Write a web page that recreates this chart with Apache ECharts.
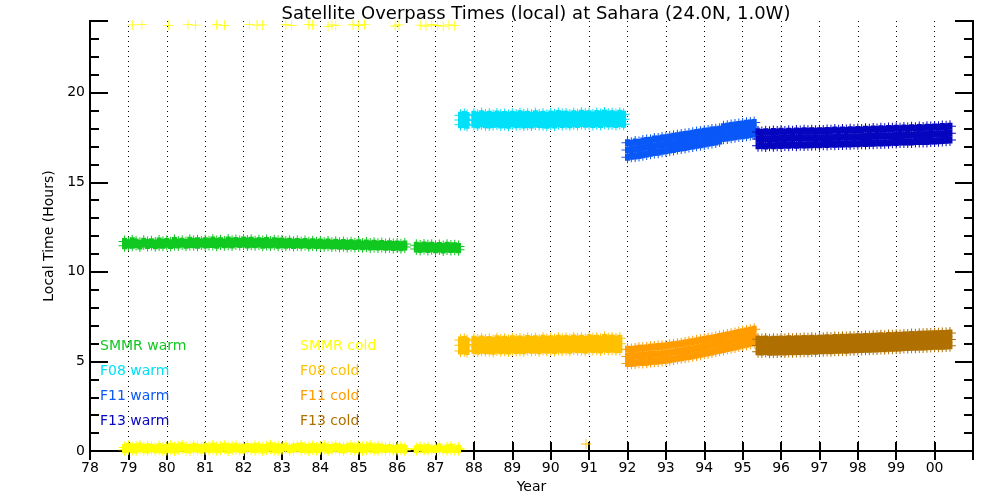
<!DOCTYPE html>
<html>
<head>
<meta charset="utf-8">
<script src="https://cdn.jsdelivr.net/npm/echarts@6/dist/echarts.min.js"></script>
<style>html,body{margin:0;padding:0;background:#fff}#chart{width:1000px;height:500px}</style>
</head>
<body>
<div id="chart"></div>
<script>
// ---- data (rows: [year, hour, hour, ...]) ----
const yearTicks = [78,79,80,81,82,83,84,85,86,87,88,89,90,91,92,93,94,95,96,97,98,99,100];
const yearLabels = ['78','79','80','81','82','83','84','85','86','87','88','89','90','91','92','93','94','95','96','97','98','99','00'];
const hourTicks = [0,5,10,15,20];
const seriesNames = ['SMMR warm','F08 warm','F11 warm','F13 warm','SMMR cold','F08 cold','F11 cold','F13 cold'];
const seriesColors = ['#10c820','#00e0f8','#0a58f8','#0606c0','#ffff00','#ffc000','#ff9c00','#b07000'];

const smmrWarm = [
[78.9,11.70,11.45],[79.0,11.62,11.50],[79.1,11.74,11.48],[79.2,11.66,11.52],[79.3,11.60,11.44],[79.4,11.71,11.55],
[79.5,11.64,11.47],[79.6,11.68,11.53],[79.7,11.61,11.46],[79.8,11.72,11.50],[79.9,11.65,11.49],[80.0,11.70,11.54],
[80.1,11.63,11.47],[80.2,11.75,11.52],[80.3,11.67,11.50],[80.4,11.71,11.56],[80.5,11.64,11.49],[80.6,11.76,11.53],
[80.7,11.69,11.51],[80.8,11.73,11.48],[80.9,11.66,11.55],[81.0,11.74,11.50],[81.1,11.68,11.53],[81.2,11.77,11.52],
[81.3,11.70,11.49],[81.4,11.74,11.56],[81.5,11.67,11.51],[81.6,11.78,11.54],[81.7,11.71,11.50],[81.8,11.75,11.57],
[81.9,11.69,11.52],[82.0,11.77,11.55],[82.1,11.72,11.50],[82.2,11.76,11.54],[82.3,11.68,11.51],[82.4,11.74,11.56],
[82.5,11.70,11.49],[82.6,11.75,11.53],[82.7,11.67,11.50],[82.8,11.73,11.54],[82.9,11.69,11.48],[83.0,11.72,11.52],
[83.1,11.66,11.49],[83.2,11.71,11.53],[83.3,11.65,11.47],[83.4,11.70,11.51],[83.5,11.64,11.48],[83.6,11.69,11.52],
[83.7,11.63,11.46],[83.8,11.68,11.50],[83.9,11.62,11.47],[84.0,11.67,11.49],[84.1,11.61,11.45],[84.2,11.66,11.48],
[84.3,11.60,11.44],[84.4,11.65,11.47],[84.5,11.59,11.43],[84.6,11.64,11.46],[84.7,11.58,11.42],[84.8,11.63,11.45],
[84.9,11.57,11.41],[85.0,11.62,11.44],[85.1,11.56,11.40],[85.2,11.61,11.43],[85.3,11.55,11.39],[85.4,11.60,11.42],
[85.5,11.54,11.38],[85.6,11.58,11.41],[85.7,11.53,11.37],[85.8,11.57,11.40],[85.9,11.52,11.36],[86.0,11.56,11.39],
[86.1,11.51,11.35],[86.2,11.55,11.38],
[86.5,11.48,11.28],[86.6,11.44,11.25],[86.7,11.50,11.30],[86.8,11.45,11.24],[86.9,11.49,11.29],[87.0,11.43,11.23],
[87.1,11.47,11.27],[87.2,11.42,11.22],[87.3,11.48,11.28],[87.4,11.44,11.24],[87.5,11.46,11.26],[87.6,11.41,11.23]
];

const smmrCold = [
[78.9,0.20,0.07],[79.0,0.12,0.26],[79.1,0.08,0.18],[79.2,0.22,0.05],[79.3,0.14,0.28],[79.4,0.09,0.19],
[79.5,0.24,0.06],[79.6,0.13,0.21],[79.7,0.07,0.17],[79.8,0.25,0.10],[79.9,0.15,0.04],[80.0,0.20,0.09],
[80.1,0.27,0.12],[80.2,0.06,0.18],[80.3,0.23,0.11],[80.4,0.16,0.29],[80.5,0.08,0.21],[80.6,0.19,0.05],
[80.7,0.26,0.13],[80.8,0.10,0.22],[80.9,0.17,0.06],[81.0,0.24,0.12],[81.1,0.09,0.20],[81.2,0.28,0.14],
[81.3,0.07,0.18],[81.4,0.21,0.11],[81.5,0.15,0.26],[81.6,0.05,0.19],[81.7,0.23,0.10],[81.8,0.13,0.27],
[81.9,0.08,0.17],[82.0,0.22,0.06],[82.1,0.16,0.25],[82.2,0.10,0.20],[82.3,0.26,0.07],[82.4,0.14,0.22],
[82.5,0.06,0.18],[82.6,0.21,0.11],[82.7,0.29,0.15],[82.8,0.09,0.19],[82.9,0.24,0.05],[83.0,0.12,0.20],
[83.1,0.18,0.27],[83.2,0.07,0.14],[83.3,0.23,0.10],[83.4,0.16,0.25],[83.5,0.30,0.08],[83.6,0.11,0.21],
[83.7,0.19,0.06],[83.8,0.25,0.13],[83.9,0.08,0.17],[84.0,0.22,0.12],[84.1,0.14,0.27],[84.2,0.05,0.19],
[84.3,0.20,0.10],[84.4,0.26,0.15],[84.5,0.09,0.22],[84.6,0.17,0.06],[84.7,0.23,0.12],[84.8,0.11,0.28],
[84.9,0.18,0.08],[85.0,0.25,0.14],[85.1,0.07,0.20],[85.2,0.21,0.11],[85.3,0.15,0.26],[85.4,0.09,0.18],
[85.5,0.24,0.06],[85.6,0.13,0.19],[85.7,0.08,0.16],[85.8,0.20,0.11],[85.9,0.12,0.07],[86.0,0.17,0.09],
[86.1,0.10,0.21],[86.2,0.14,0.06],[86.5,0.12,0.08],[86.6,0.18],[86.7,0.09,0.15],[86.8,0.20,0.07],
[86.9,0.11],[87.0,0.16,0.08],[87.1,0.22,0.12],[87.2,0.10],[87.3,0.17,0.07],[87.4,0.13,0.21],
[87.5,0.09],[87.6,0.15,0.08]
];
// SMMR cold overpasses just before midnight (wrapped to the top of the plot)
const smmrColdLate = [
[79.1,23.78],[79.35,23.80],[80.05,23.76],[80.55,23.80],[80.75,23.77],[81.3,23.79],[81.5,23.76],[82.15,23.80],
[82.35,23.77],[82.5,23.78],[83.1,23.79],[83.25,23.76],[83.7,23.80],[83.8,23.77],[84.2,23.70],[84.3,23.78],
[84.4,23.74],[84.85,23.79],[85.0,23.76],[85.15,23.80],[85.95,23.72],[86.05,23.78],[86.6,23.77],[86.75,23.72],
[86.9,23.79],[87.05,23.75],[87.2,23.71],[87.35,23.78],[87.5,23.74]
];

const f08Warm = [
[87.65,18.74,18.48,18.21],[87.75,18.78,18.50,18.22],[87.82,18.72,18.45,18.18],[88.0,18.80,18.52,18.24],[88.1,18.74,18.47,18.20],
[88.2,18.82,18.55,18.27],[88.3,18.76,18.48,18.21],[88.4,18.79,18.51,18.19],[88.5,18.73,18.46,18.23],
[88.6,18.81,18.53,18.25],[88.7,18.75,18.49,18.20],[88.8,18.78,18.50,18.22],[88.9,18.72,18.44,18.18],
[89.0,18.80,18.52,18.26],[89.1,18.76,18.47,18.21],[89.2,18.83,18.54,18.24],[89.3,18.77,18.49,18.20],
[89.4,18.80,18.51,18.23],[89.5,18.74,18.46,18.19],[89.6,18.82,18.53,18.25],[89.7,18.76,18.48,18.22],
[89.8,18.79,18.50,18.21],[89.9,18.73,18.45,18.18],[90.0,18.81,18.52,18.24],[90.1,18.77,18.48,18.20],
[90.2,18.84,18.55,18.26],[90.3,18.78,18.50,18.22],[90.4,18.81,18.53,18.25],[90.5,18.75,18.47,18.21],
[90.6,18.83,18.54,18.27],[90.7,18.77,18.49,18.23],[90.8,18.85,18.56,18.28],[90.9,18.79,18.51,18.24],
[91.0,18.82,18.54,18.26],[91.1,18.76,18.48,18.22],[91.2,18.84,18.55,18.27],[91.3,18.78,18.50,18.23],
[91.4,18.86,18.57,18.29],[91.5,18.80,18.52,18.25],[91.6,18.83,18.55,18.27],[91.7,18.77,18.49,18.22],
[91.8,18.85,18.56,18.28],[91.9,18.79,18.51,18.24]
];

const f08Cold = [
[87.65,6.20,5.90,5.58],[87.75,6.22,5.92,5.60],[87.82,6.15,5.86,5.56],[88.0,6.24,5.94,5.62],[88.1,6.18,5.88,5.58],[88.2,6.25,5.95,5.63],
[88.3,6.19,5.89,5.59],[88.4,6.23,5.93,5.61],[88.5,6.17,5.87,5.57],[88.6,6.26,5.96,5.64],[88.7,6.20,5.90,5.60],
[88.8,6.24,5.94,5.62],[88.9,6.18,5.88,5.58],[89.0,6.27,5.97,5.65],[89.1,6.21,5.91,5.61],[89.2,6.25,5.95,5.63],
[89.3,6.19,5.89,5.59],[89.4,6.28,5.98,5.66],[89.5,6.22,5.92,5.62],[89.6,6.26,5.96,5.64],[89.7,6.20,5.90,5.60],
[89.8,6.29,5.99,5.67],[89.9,6.23,5.93,5.63],[90.0,6.27,5.97,5.65],[90.1,6.21,5.91,5.61],[90.2,6.30,6.00,5.68],
[90.3,6.24,5.94,5.64],[90.4,6.28,5.98,5.66],[90.5,6.22,5.92,5.62],[90.6,6.31,6.01,5.69],[90.7,6.25,5.95,5.65],
[90.8,6.29,5.99,5.67],[90.9,6.23,5.93,5.63],[91.0,6.32,6.02,5.70],[91.1,6.26,5.96,5.66],[91.2,6.30,6.00,5.68],
[91.3,6.24,5.94,5.64],[91.4,6.33,6.03,5.71],[91.5,6.27,5.97,5.67],[91.6,6.31,6.01,5.69],[91.7,6.25,5.95,5.65],
[91.8,6.29,5.99,5.67]
];
// single stray F08 cold overpass near midnight
const f08ColdStray = [[90.92,0.39]];

const f11Warm = [
[92.0,17.20,16.80,16.40],[92.1,17.17,16.82,16.45],[92.2,17.25,16.86,16.47],[92.3,17.22,16.88,16.50],
[92.4,17.30,16.92,16.53],[92.5,17.33,16.97,16.58],[92.6,17.35,16.99,16.62],[92.7,17.41,17.03,16.66],
[92.8,17.42,17.06,16.68],[92.9,17.47,17.10,16.73],[93.0,17.49,17.13,16.76],[93.1,17.53,17.16,16.80],
[93.2,17.57,17.20,16.83],[93.3,17.59,17.23,16.88],[93.4,17.64,17.27,16.91],[93.5,17.66,17.30,16.94],
[93.6,17.70,17.34,16.99],[93.7,17.73,17.38,17.02],[93.8,17.78,17.42,17.06],[93.9,17.81,17.46,17.09],
[94.0,17.84,17.50,17.14],[94.1,17.86,17.53,17.18],[94.2,17.91,17.56,17.22],[94.3,17.93,17.59,17.25],
[94.4,17.96,17.62,17.30],[94.5,18.10,17.77,17.45],[94.6,18.12,17.80,17.47],[94.7,18.17,17.83,17.51],
[94.8,18.19,17.86,17.54],[94.9,18.22,17.89,17.58],[95.0,18.25,17.92,17.60],[95.1,18.29,17.95,17.63],
[95.2,18.31,17.98,17.66],[95.3,18.34,18.02,17.70]
];

const f11Cold = [
[92.0,5.68,5.28,4.88],[92.1,5.66,5.27,4.90],[92.2,5.70,5.30,4.91],[92.3,5.74,5.34,4.95],[92.4,5.73,5.33,4.94],
[92.5,5.75,5.35,4.96],[92.6,5.79,5.38,4.99],[92.7,5.81,5.40,5.01],[92.8,5.83,5.42,5.03],[92.9,5.84,5.43,5.05],
[93.0,5.86,5.45,5.07],[93.1,5.90,5.49,5.10],[93.2,5.93,5.52,5.13],[93.3,5.96,5.55,5.17],[93.4,5.99,5.58,5.20],
[93.5,6.03,5.62,5.24],[93.6,6.07,5.66,5.28],[93.7,6.10,5.70,5.32],[93.8,6.14,5.74,5.36],[93.9,6.18,5.78,5.40],
[94.0,6.22,5.83,5.45],[94.1,6.26,5.87,5.49],[94.2,6.30,5.91,5.53],[94.3,6.34,5.96,5.58],[94.4,6.39,6.00,5.62],
[94.5,6.43,6.05,5.67],[94.6,6.47,6.09,5.72],[94.7,6.52,6.14,5.76],[94.8,6.56,6.18,5.81],[94.9,6.61,6.23,5.86],
[95.0,6.65,6.28,5.91],[95.1,6.70,6.33,5.96],[95.2,6.74,6.37,6.01],[95.3,6.80,6.42,6.05]
];

const f13Warm = [
[95.4,17.80,17.42,17.04],[95.5,17.78,17.41,17.05],[95.6,17.82,17.43,17.03],[95.7,17.79,17.42,17.06],
[95.8,17.83,17.44,17.04],[95.9,17.80,17.43,17.07],[96.0,17.84,17.45,17.05],[96.1,17.81,17.44,17.08],
[96.2,17.84,17.46,17.06],[96.3,17.82,17.45,17.09],[96.4,17.86,17.47,17.07],[96.5,17.83,17.46,17.09],
[96.6,17.87,17.48,17.08],[96.7,17.84,17.47,17.10],[96.8,17.88,17.49,17.09],[96.9,17.85,17.48,17.11],
[97.0,17.88,17.49,17.10],[97.1,17.86,17.48,17.12],[97.2,17.89,17.50,17.11],[97.3,17.87,17.49,17.13],
[97.4,17.91,17.51,17.12],[97.5,17.88,17.50,17.14],[97.6,17.92,17.52,17.13],[97.7,17.89,17.51,17.15],
[97.8,17.93,17.53,17.14],[97.9,17.90,17.52,17.16],[98.0,17.94,17.54,17.15],[98.1,17.92,17.54,17.17],
[98.2,17.96,17.56,17.16],[98.3,17.93,17.55,17.18],[98.4,17.97,17.57,17.18],[98.5,17.95,17.57,17.20],
[98.6,17.99,17.59,17.19],[98.7,17.96,17.58,17.21],[98.8,18.00,17.60,17.21],[98.9,17.98,17.60,17.23],
[99.0,18.01,17.61,17.22],[99.1,17.99,17.61,17.24],[99.2,18.03,17.63,17.24],[99.3,18.00,17.62,17.25],
[99.4,18.04,17.64,17.25],[99.5,18.02,17.64,17.27],[99.6,18.06,17.66,17.27],[99.7,18.03,17.65,17.28],
[99.8,18.07,17.67,17.28],[99.9,18.05,17.67,17.30],[100.0,18.09,17.69,17.30],[100.1,18.07,17.69,17.32],
[100.2,18.11,17.71,17.33],[100.3,18.10,17.72,17.35],[100.4,18.13,17.74,17.36]
];

const f13Cold = [
[95.4,6.24,5.89,5.54],[95.5,6.22,5.87,5.52],[95.6,6.25,5.88,5.55],[95.7,6.21,5.86,5.51],[95.8,6.24,5.88,5.53],
[95.9,6.22,5.87,5.52],[96.0,6.25,5.89,5.54],[96.1,6.23,5.88,5.53],[96.2,6.26,5.90,5.55],[96.3,6.24,5.89,5.54],
[96.4,6.27,5.91,5.56],[96.5,6.25,5.90,5.55],[96.6,6.28,5.92,5.57],[96.7,6.26,5.91,5.56],[96.8,6.29,5.93,5.58],
[96.9,6.27,5.92,5.57],[97.0,6.30,5.94,5.59],[97.1,6.29,5.94,5.59],[97.2,6.32,5.96,5.61],[97.3,6.30,5.95,5.60],
[97.4,6.33,5.97,5.62],[97.5,6.32,5.97,5.62],[97.6,6.35,5.99,5.64],[97.7,6.33,5.98,5.63],[97.8,6.36,6.00,5.65],
[97.9,6.35,6.00,5.65],[98.0,6.38,6.02,5.67],[98.1,6.36,6.01,5.66],[98.2,6.39,6.03,5.68],[98.3,6.38,6.03,5.68],
[98.4,6.41,6.05,5.70],[98.5,6.40,6.05,5.70],[98.6,6.43,6.07,5.72],[98.7,6.41,6.06,5.71],[98.8,6.44,6.08,5.73],
[98.9,6.43,6.08,5.73],[99.0,6.46,6.10,5.75],[99.1,6.45,6.10,5.75],[99.2,6.48,6.12,5.77],[99.3,6.47,6.12,5.77],
[99.4,6.50,6.14,5.79],[99.5,6.49,6.14,5.79],[99.6,6.52,6.16,5.81],[99.7,6.51,6.16,5.81],[99.8,6.53,6.17,5.82],
[99.9,6.53,6.18,5.83],[100.0,6.55,6.19,5.84],[100.1,6.54,6.19,5.84],[100.2,6.56,6.20,5.85],[100.3,6.56,6.21,5.86],
[100.4,6.58,6.22,5.87]
];

const seriesRows = [smmrWarm, f08Warm, f11Warm, f13Warm, smmrCold, f08Cold, f11Cold, f13Cold];
// isolated overpasses drawn with plain thin crosses: [series index, rows]
const sparseRows = [[4, smmrColdLate], [5, f08ColdStray]];

// ---- build ----
function toPoints(rows) {
  const pts = [];
  rows.forEach(r => { for (let i = 1; i < r.length; i++) pts.push([r[0], r[i]]); });
  return pts;
}
const FONT = 'DejaVu Sans';
// dense overpass marker: thin plus with a small solid core (many overlapping '+' marks)
const PLUS_DENSE = 'path://M5.5,0H6.5V12H5.5Z M0,5.5H12V6.5H0Z M3.5,2.5H8.5V9.5H3.5Z';
const PLUS_THIN = 'path://M5.5,0H6.5V12H5.5Z M0,5.5H12V6.5H0Z';

const series = seriesNames.map((name, i) => ({
  name: name,
  type: 'scatter',
  data: toPoints(seriesRows[i]),
  symbol: PLUS_DENSE,
  symbolSize: 12,
  clip: false,
  itemStyle: { color: seriesColors[i], opacity: 1 },
  emphasis: { disabled: true },
  xAxisIndex: 0, yAxisIndex: 0
}));
sparseRows.forEach(([i, rows]) => series.push({
  name: seriesNames[i],
  type: 'scatter',
  data: toPoints(rows),
  symbol: PLUS_THIN,
  symbolSize: 10,
  clip: false,
  itemStyle: { color: seriesColors[i], opacity: 1 },
  emphasis: { disabled: true },
  xAxisIndex: 0, yAxisIndex: 0
}));

const legendText = seriesNames.map((name, i) => ({
  type: 'text',
  left: i < 4 ? 100 : 300,
  top: 339 + (i % 4) * 25,
  style: { text: name, fill: seriesColors[i], font: '14px "' + FONT + '"' },
  z: 10
}));

const axisLineStyle = { color: '#000', width: 2 };
const baseY = {
  type: 'value', min: 0, max: 24,
  axisLine: { show: true, lineStyle: axisLineStyle },
  splitLine: { show: false },
  axisLabel: { show: false }
};

const chart = echarts.init(document.getElementById('chart'), null, { renderer: 'canvas' });
chart.setOption({
  animation: false,
  backgroundColor: '#fff',
  title: {
    text: 'Satellite Overpass Times (local) at Sahara (24.0N, 1.0W)',
    left: 531, top: 0, textAlign: 'center',
    textStyle: { fontFamily: FONT, fontSize: 18, fontWeight: 'normal', color: '#000' }
  },
  grid: { left: 90, right: 27, top: 21, bottom: 49 },
  xAxis: [
    {
      type: 'value', min: 78, max: 101, interval: 1, position: 'bottom',
      name: 'Year', nameLocation: 'middle', nameGap: 21,
      nameTextStyle: { fontFamily: FONT, fontSize: 14, color: '#000' },
      axisLine: { show: true, lineStyle: axisLineStyle },
      axisTick: { show: true, inside: true, length: 9, lineStyle: { color: '#000', width: 2 } },
      axisLabel: {
        fontFamily: FONT, fontSize: 14, color: '#000', margin: 10,
        formatter: v => { const k = yearTicks.indexOf(v); return k >= 0 ? yearLabels[k] : ''; }
      },
      splitLine: { show: true, lineStyle: { color: '#000', width: 1, type: [1, 4] } }
    },
    {
      type: 'value', min: 78, max: 101, interval: 1, position: 'top',
      axisLine: { show: true, lineStyle: axisLineStyle },
      axisTick: { show: true, inside: true, length: 9, lineStyle: { color: '#000', width: 2 } },
      axisLabel: { show: false },
      splitLine: { show: false }
    }
  ],
  yAxis: [
    Object.assign({}, baseY, {
      position: 'left', interval: 5,
      name: 'Local Time (Hours)', nameLocation: 'middle', nameGap: 34,
      nameTextStyle: { fontFamily: FONT, fontSize: 14, color: '#000' },
      axisTick: { show: true, inside: true, length: 18, lineStyle: { color: '#000', width: 2 } },
      axisLabel: {
        show: true, fontFamily: FONT, fontSize: 14, color: '#000', margin: 5,
        formatter: v => hourTicks.indexOf(v) >= 0 ? String(v) : ''
      }
    }),
    Object.assign({}, baseY, {
      position: 'left', interval: 1,
      axisTick: { show: true, inside: true, length: 9, lineStyle: { color: '#000', width: 2 } }
    }),
    Object.assign({}, baseY, {
      position: 'right', interval: 5,
      axisTick: { show: true, inside: true, length: 18, lineStyle: { color: '#000', width: 2 } }
    }),
    Object.assign({}, baseY, {
      position: 'right', interval: 1,
      axisTick: { show: true, inside: true, length: 9, lineStyle: { color: '#000', width: 2 } }
    })
  ],
  graphic: legendText,
  series: series
});
</script>
</body>
</html>
